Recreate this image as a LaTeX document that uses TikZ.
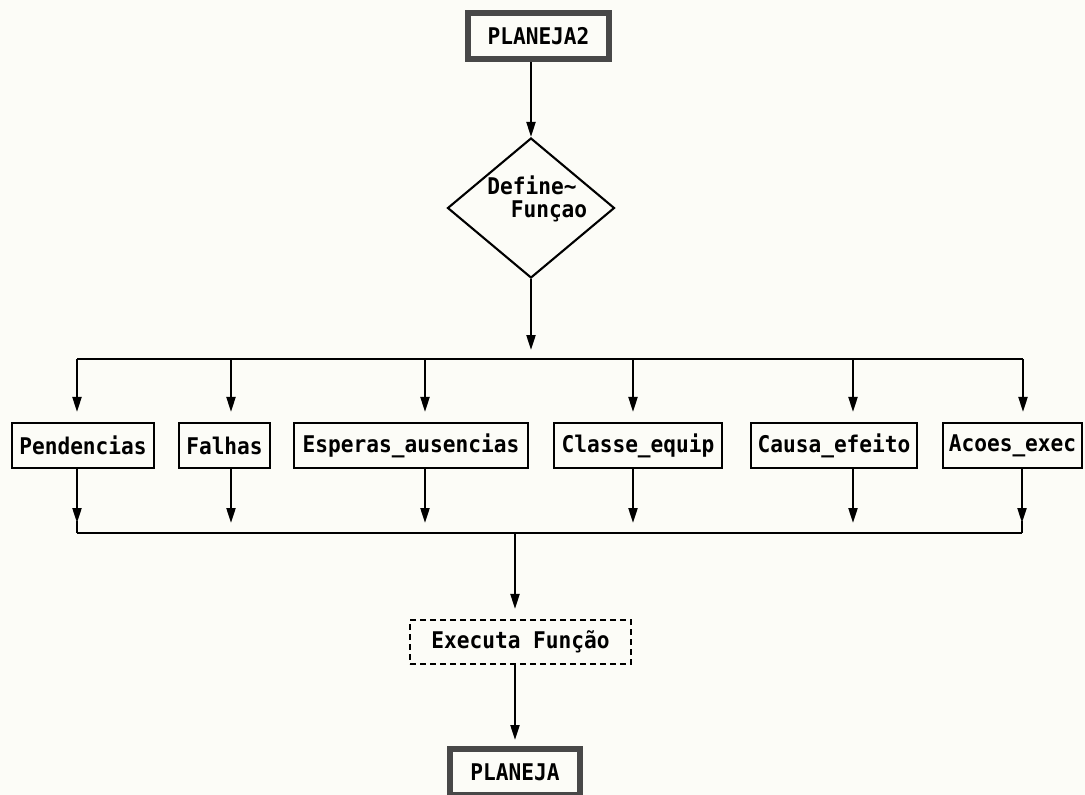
\documentclass[tikz,border=0pt]{standalone}
\usepackage{fontspec}
\newfontfamily\dosfont[FakeStretch=0.92]{DejaVu Sans Mono}
\usetikzlibrary{arrows.meta,shapes.geometric}
\definecolor{paper}{RGB}{252,252,247}
\definecolor{frame}{RGB}{72,72,72}

\begin{document}
\begin{tikzpicture}[x=1pt,y=-1pt,
  line width=2.1pt,
  every node/.style={font=\dosfont\bfseries\fontsize{23}{27}\selectfont, text=black},
  flow/.style={-{Triangle[length=15pt,width=9pt]}},
  modbox/.style={draw, rectangle, inner sep=0pt, minimum height=45pt},
  termbox/.style={draw=frame, line width=6pt, rectangle, inner sep=0pt, minimum height=46pt},
  execbox/.style={draw, rectangle, dash pattern=on 6pt off 4pt, inner sep=0pt, minimum height=44pt, minimum width=221pt},
  choice/.style={draw, diamond, inner sep=0pt, minimum width=167pt, minimum height=140pt}
]
% page
\fill[paper] (0,0) rectangle (1085,795);
\useasboundingbox (0,0) rectangle (1085,795);

% start / end terminals
\node[termbox, minimum width=141pt] (start) at (538.5,36) {PLANEJA2};
\node[termbox, minimum width=130pt] (stop) at (515,772) {PLANEJA};

% decision
\node[choice] (def) at (531,208) {};
\node (defa) at (532,185) {Define\textasciitilde};
\node (defb) at (549,211) {Funçao};

% modules
\node[modbox, minimum width=142pt] (pend) at (83,445.5) {Pendencias};
\node[modbox, minimum width=91pt]  (falh) at (224.5,445.5) {Falhas};
\node[modbox, minimum width=234pt] (espe) at (411,445.5) {Esperas\_ausencias};
\node[modbox, minimum width=168pt] (clas) at (638,445.5) {Classe\_equip};
\node[modbox, minimum width=166pt] (caus) at (834,445.5) {Causa\_efeito};
\node[modbox, minimum width=139pt] (acoe) at (1012.5,445.5) {Acoes\_exec};

% execution
\node[execbox] (exe) at (520.5,642) {Executa Função};

% distribution bus
\coordinate (t1) at (77,359);
\coordinate (t2) at (231,359);
\coordinate (t3) at (425,359);
\coordinate (t4) at (633,359);
\coordinate (t5) at (853,359);
\coordinate (t6) at (1023,359);
% collecting bus
\coordinate (b1) at (77,533);
\coordinate (b2) at (231,533);
\coordinate (b3) at (425,533);
\coordinate (b4) at (633,533);
\coordinate (b5) at (853,533);
\coordinate (b6) at (1022,533);
\coordinate (bm) at (515,533);

\draw[flow] (start.south -| def.north) -- (def.north);
\draw[flow, shorten >=9pt] (def.south) -- (def.south |- t1);
\draw (t1) -- (t6);
\foreach \t/\n in {t1/pend, t2/falh, t3/espe, t4/clas, t5/caus, t6/acoe}
  \draw[flow, shorten >=10pt] (\t) -- (\t |- \n.north);
\foreach \b/\n in {b1/pend, b2/falh, b3/espe, b4/clas, b5/caus, b6/acoe}
  \draw[flow, shorten >=10pt] (\n.south -| \b) -- (\b);
\draw (b1) -- (b6);
\draw (b1) ++(0,-12) -- (b1);
\draw (b6) ++(0,-12) -- (b6);
\draw[flow, shorten >=10pt] (bm) -- (bm |- exe.north);
\draw[flow, shorten >=6pt] (exe.south -| stop.north) -- (stop.north);
\end{tikzpicture}
\end{document}
